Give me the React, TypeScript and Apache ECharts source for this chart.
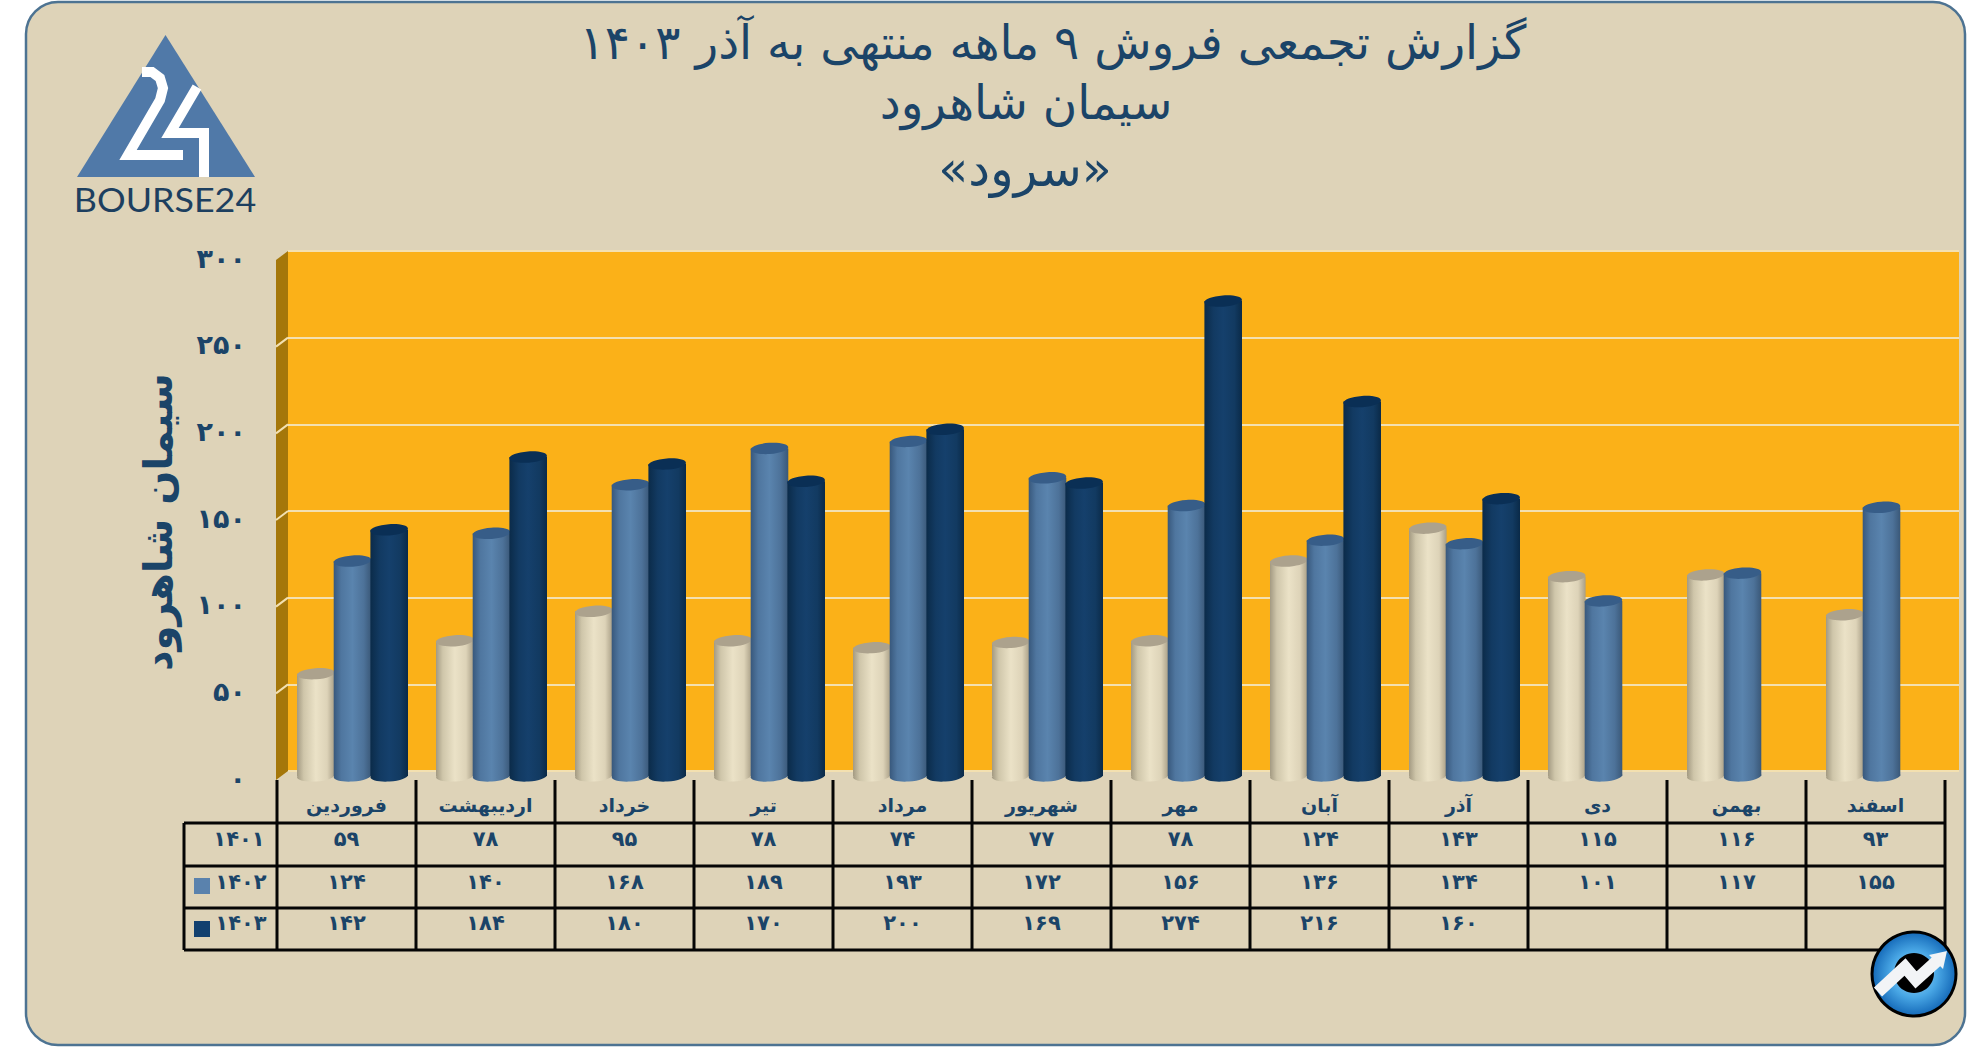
import React, { useEffect, useRef } from "react";
import * as echarts from "echarts";

const months = ["فروردین", "اردیبهشت", "خرداد", "تیر", "مرداد", "شهریور", "مهر", "آبان", "آذر", "دی", "بهمن", "اسفند"];
const years = ["۱۴۰۱", "۱۴۰۲", "۱۴۰۳"];
const sales1401 = [59, 78, 95, 78, 74, 77, 78, 124, 143, 115, 116, 93];
const sales1402 = [124, 140, 168, 189, 193, 172, 156, 136, 134, 101, 117, 155];
const sales1403: (number | null)[] = [142, 184, 180, 170, 200, 169, 274, 216, 160, null, null, null];
const yTicks = [0, 50, 100, 150, 200, 250, 300];
const titleLines = ["گزارش تجمعی فروش ۹ ماهه منتهی به آذر ۱۴۰۳", "سیمان شاهرود", "«سرود»"];
const axisName = "سیمان شاهرود";

const W = 1986, H = 1047;
const FONT = '"DejaVu Sans", "Noto Sans", sans-serif';
const INK = "#1b4468";
const fa = (n: number) => String(n).replace(/\d/g, (d) => "۰۱۲۳۴۵۶۷۸۹"[+d]);

const FRONT = { left: 277, top: 258, width: 1668, height: 520 };
const BACK = { left: 288, top: 251, width: 1671, height: 520 };
const rows = [823, 866, 908, 950];
const tableLeft = 184;
const colW = FRONT.width / 12;

const grad = (stops: [number, string][]) => ({
  type: "linear", x: 0, y: 0, x2: 1, y2: 0,
  colorStops: stops.map(([offset, color]) => ({ offset, color })),
});

const palettes = [
  { body: grad([[0, "#a39a82"], [0.18, "#cfc6aa"], [0.5, "#ebe2c7"], [0.8, "#ddd3b8"], [1, "#a89e86"]]), top: "#aca28d" },
  { body: grad([[0, "#38587c"], [0.2, "#4f769f"], [0.5, "#5a84ae"], [0.8, "#4d7299"], [1, "#3a5878"]]), top: "#375d88" },
  { body: grad([[0, "#0b2b49"], [0.25, "#123a62"], [0.5, "#15406c"], [0.8, "#123a61"], [1, "#0a2a48"]]), top: "#0a2f55" },
];

const cylinder = (slot: number) => (_: any, api: any) => {
  const cat = api.value(0);
  const p = api.coord([cat, api.value(1)]);
  const base = api.coord([cat, 0]);
  const band = api.size([1, 0])[0];
  const step = (band / 139) * 36.7;
  const rx = 18.8, ry = 5.6;
  const cx = p[0] + 6 + (slot - 1) * step;
  const topY = p[1] - 2, botY = base[1] - 2;
  const pal = palettes[slot];
  const ellipse = (cy: number, fill: any) => ({
    type: "ellipse", x: cx, y: cy, rotation: 0.07, originX: 0, originY: 0,
    shape: { cx: 0, cy: 0, rx, ry }, style: { fill },
  });
  return {
    type: "group",
    children: [
      ellipse(botY, pal.body),
      { type: "rect", shape: { x: cx - rx, y: topY, width: rx * 2, height: botY - topY }, style: { fill: pal.body } },
      ellipse(topY, pal.top),
    ],
  };
};

const seriesOf = (name: string, values: (number | null)[], slot: number) => ({
  type: "custom", name, xAxisIndex: 1, yAxisIndex: 1, clip: false,
  renderItem: cylinder(slot),
  encode: { x: 0, y: 1 },
  data: values.map((v, i) => (v == null ? null : [i, v])).filter(Boolean),
});

const txt = (text: string, x: number, y: number, size: number, weight: string = "bold", extra: any = {}) => ({
  type: "text", x, y, z: 5,
  style: { text, align: "center", verticalAlign: "middle", fontFamily: FONT, fontSize: size, fontWeight: weight, fill: INK, ...extra },
});
const line = (x1: number, y1: number, x2: number, y2: number, stroke: string, lineWidth: number, z = 4) => ({
  type: "line", z, shape: { x1, y1, x2, y2 }, style: { stroke, lineWidth },
});

function tableGraphics() {
  const out: any[] = [];
  const right = FRONT.left + FRONT.width;
  rows.forEach((y) => out.push(line(tableLeft, y, right, y, "#050505", 3)));
  out.push(line(tableLeft, rows[0], tableLeft, rows[3], "#050505", 3));
  for (let i = 0; i <= 12; i++) {
    const x = FRONT.left + colW * i;
    out.push(line(x, 780, x, rows[3], "#050505", 3));
  }
  const rowY = [839, 882, 923];
  const yearX = [239, 241, 241];
  [sales1401, sales1402, sales1403].forEach((vals, r) => {
    out.push(txt(years[r], yearX[r], rowY[r], 21));
    vals.forEach((v, i) => {
      if (v != null) out.push(txt(fa(v), FRONT.left + colW * (i + 0.5), rowY[r], 21));
    });
  });
  out.push({ type: "rect", z: 5, shape: { x: 194, y: 878, width: 16, height: 16 }, style: { fill: "#5a82ad" } });
  out.push({ type: "rect", z: 5, shape: { x: 194, y: 921, width: 16, height: 16 }, style: { fill: "#12406f" } });
  return out;
}

function wallGraphics() {
  const out: any[] = [
    { type: "polygon", z: 1, shape: { points: [[276, 260], [288, 251], [288, 771], [276, 780]] }, style: { fill: "#a5770a" } },
  ];
  yTicks.slice(1, -1).forEach((t) => {
    const y = BACK.top + BACK.height * (1 - t / 300);
    out.push(line(276, y + 9, 288, y, "#f3e0b0", 2, 2));
  });
  return out;
}

function logoGraphics() {
  return [
    { type: "polygon", z: 2, shape: { points: [[165.5, 35], [77, 177], [255, 177]] }, style: { fill: "#5079a8" } },
    { type: "polyline", z: 3, shape: { points: [[142, 72], [152, 72], [160, 78], [163, 88], [160, 100], [128, 155], [183, 155]] }, style: { stroke: "#fff", lineWidth: 10, fill: "none", lineJoin: "miter" } },
    { type: "polyline", z: 3, shape: { points: [[197, 87], [170, 133], [204, 133], [204, 177]] }, style: { stroke: "#fff", lineWidth: 10, fill: "none", lineJoin: "miter" } },
    {
      type: "text", z: 3, x: 165, y: 199, scaleX: 1.12,
      style: { text: "BOURSE24", align: "center", verticalAlign: "middle", fontFamily: "Lato, sans-serif", fontSize: 32, fontWeight: 400, fill: "#1d3f5f" },
    },
  ];
}

function badgeGraphics() {
  const cx = 1914, cy = 974;
  return [
    { type: "circle", z: 6, shape: { cx, cy, r: 42 }, style: { stroke: "#000", lineWidth: 3, fill: { type: "radial", x: 0.5, y: 0.5, r: 0.5, colorStops: [{ offset: 0, color: "#a9d6f2" }, { offset: 0.55, color: "#4aa8e6" }, { offset: 1, color: "#1469b8" }] } } },
    { type: "circle", z: 6, shape: { cx, cy: cy - 1, r: 20 }, style: { fill: "#000" } },
    { type: "polyline", z: 7, shape: { points: [[1878, 992], [1905, 967], [1916, 980], [1938, 960]] }, style: { stroke: "#f2f4f6", lineWidth: 12, fill: "none", lineJoin: "miter" } },
    { type: "polygon", z: 7, shape: { points: [[1947, 951], [1929, 955], [1943, 969]] }, style: { fill: "#f2f4f6" } },
  ];
}

export default function App() {
  const ref = useRef<HTMLDivElement>(null);
  useEffect(() => {
    if (!ref.current) return;
    const chart = echarts.init(ref.current, undefined, { renderer: "svg" });
    const titleXY = [[1053, 19], [1026, 79], [1025, 145]];
    chart.setOption({
      animation: false,
      backgroundColor: "#ffffff",
      textStyle: { fontFamily: FONT },
      title: titleLines.map((text, i) => ({
        text, left: titleXY[i][0], top: titleXY[i][1], textAlign: "center", padding: 0,
        textStyle: { color: INK, fontFamily: FONT, fontSize: i === 2 ? 49 : 47, fontWeight: i === 2 ? 500 : 400 },
      })),
      grid: [
        { ...BACK, show: true, backgroundColor: "#fbb118", borderWidth: 0, containLabel: false },
        { ...FRONT, show: false, containLabel: false },
      ],
      xAxis: [
        { gridIndex: 0, type: "category", data: months, show: false },
        {
          gridIndex: 1, type: "category", data: months,
          axisLine: { show: false }, axisTick: { show: false },
          axisLabel: { interval: 0, margin: 17, color: INK, fontSize: 19, fontWeight: "bold", fontFamily: FONT },
        },
      ],
      yAxis: [
        {
          gridIndex: 0, type: "value", min: 0, max: 300, interval: 50,
          axisLine: { show: false }, axisTick: { show: false }, axisLabel: { show: false },
          splitLine: { show: true, lineStyle: { color: "#f3e0b0", width: 2 } },
        },
        {
          gridIndex: 1, type: "value", min: 0, max: 300, interval: 50,
          name: axisName, nameLocation: "middle", nameRotate: 90, nameGap: 99,
          nameTextStyle: { color: INK, fontSize: 40, fontWeight: "bold", fontFamily: FONT, padding: [0, 0, 0, -8] },
          axisLine: { show: false }, axisTick: { show: false }, splitLine: { show: false },
          axisLabel: { margin: 31, color: INK, fontSize: 27, fontWeight: "bold", fontFamily: FONT, padding: [0, 0, 3, 0], formatter: (v: number) => fa(v) },
        },
      ],
      series: [
        seriesOf("۱۴۰۱", sales1401, 0),
        seriesOf("۱۴۰۲", sales1402, 1),
        seriesOf("۱۴۰۳", sales1403, 2),
      ],
      graphic: [
        { type: "rect", z: -10, shape: { x: 26, y: 2, width: 1939, height: 1043, r: 32 }, style: { fill: "#ded3b8", stroke: "#4d7392", lineWidth: 2.5 } },
        ...wallGraphics(),
        ...logoGraphics(),
        ...tableGraphics(),
        ...badgeGraphics(),
      ],
    });
    return () => chart.dispose();
  }, []);
  return <div ref={ref} style={{ position: "fixed", left: 0, top: 0, width: W, height: H }} />;
}
